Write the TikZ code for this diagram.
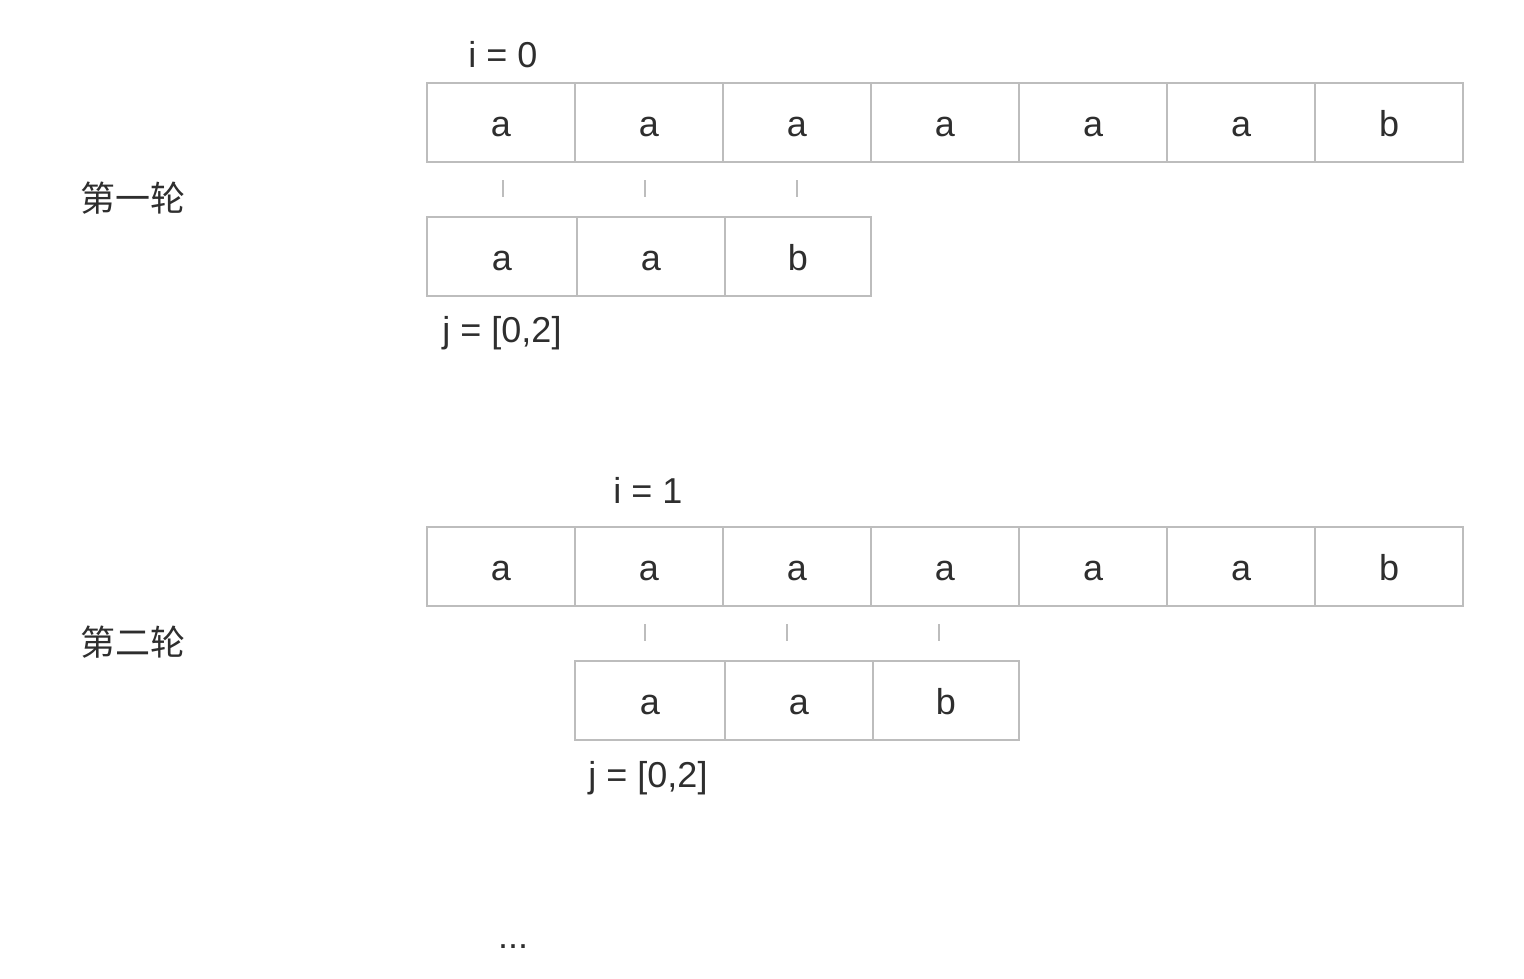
\documentclass[tikz,border=0pt]{standalone}
\usepackage{fontspec}
\setmainfont{Liberation Sans}
\newfontfamily\cjk{Noto Sans CJK SC}
\definecolor{txt}{HTML}{2E2E2E}
\definecolor{bord}{HTML}{BDBDBD}
\begin{document}
\begin{tikzpicture}[x=1pt,y=-1pt,
  cell/.style={draw=bord,line width=1.5pt,minimum height=79pt,inner sep=0pt,text height=27pt,text depth=0pt,text=txt,font=\fontsize{36}{40}\selectfont},
  lbl/.style={text=txt,inner sep=0pt,anchor=base,font=\fontsize{36}{40}\selectfont},
  tick/.style={draw=bord,line width=1.5pt}]
\useasboundingbox (0,0) rectangle (1524,978);
% arrays
\foreach \c [count=\k from 0] in {a,a,a,a,a,a,b}{
  \node[cell,minimum width=148pt] (t1\k) at ({501+148*\k},122.5) {\c};
  \node[cell,minimum width=148pt] (t2\k) at ({501+148*\k},566.5) {\c};
}
% patterns
\node[cell,minimum width=150pt] (p10) at (502,256.5) {a};
\node[cell,minimum width=148pt] (p11) at (651,256.5) {a};
\node[cell,minimum width=146pt] (p12) at (798,256.5) {b};
\node[cell,minimum width=150pt] (p20) at (650,700.5) {a};
\node[cell,minimum width=148pt] (p21) at (799,700.5) {a};
\node[cell,minimum width=146pt] (p22) at (946,700.5) {b};
% ticks
\foreach \x in {503,645,797}{\draw[tick] (\x,180) -- (\x,197);}
\foreach \x in {645,787,939}{\draw[tick] (\x,624) -- (\x,641);}
% labels
\node[lbl] (i0) at (503,67) {i = 0};
\node[lbl] (j0) at (502,342) {j = [0,2]};
\node[lbl] (i1) at (648,503) {i = 1};
\node[lbl] (j1) at (648,787) {j = [0,2]};
\node[text=txt,inner sep=0pt,font=\cjk\fontsize{35}{40}\selectfont] (r1) at (133,198) {第一轮};
\node[text=txt,inner sep=0pt,font=\cjk\fontsize{35}{40}\selectfont] (r2) at (133,642) {第二轮};
\node[lbl] (dots) at (513,948) {...};
\end{tikzpicture}
\end{document}
